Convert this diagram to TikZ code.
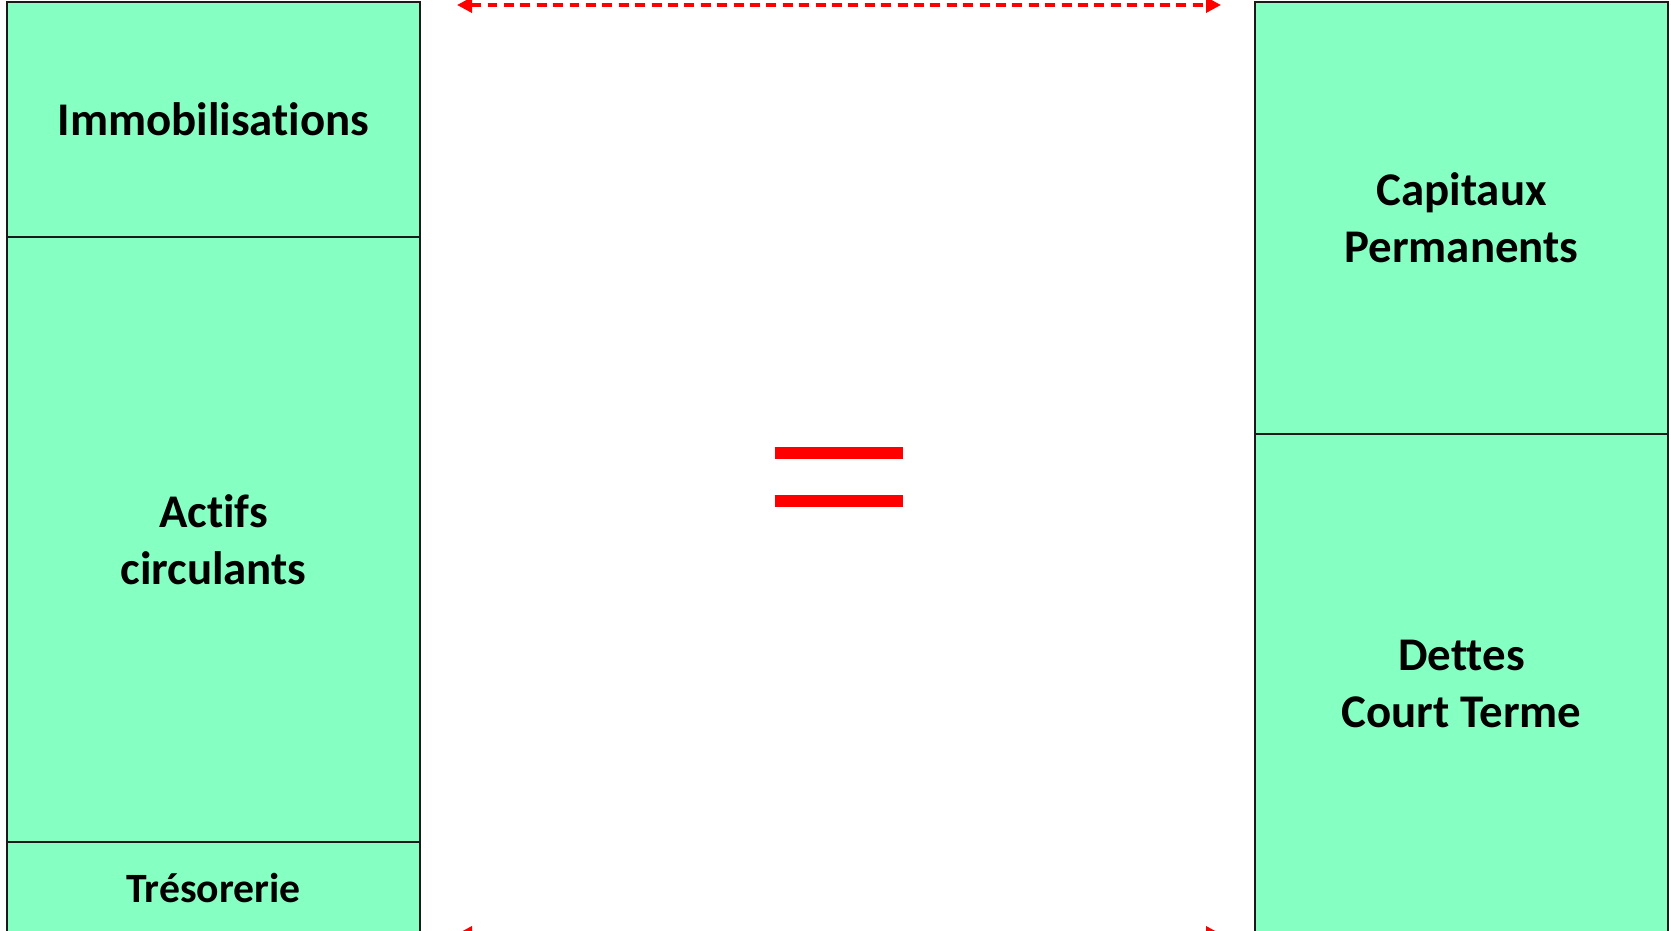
\documentclass[tikz,border=0pt]{standalone}
\usepackage{fontspec}
\setmainfont{Carlito}[Ligatures=NoCommon]
\usetikzlibrary{arrows.meta, positioning}
\definecolor{cmint}{HTML}{86FFC2}
\definecolor{cline}{HTML}{1A1A1A}
\definecolor{cred}{HTML}{FF0000}
\tikzset{
  every picture/.style={x=0.03cm, y=-0.03cm},
  bloc/.style={draw=cline, fill=cmint, line width=1.3pt, outer sep=0pt, inner sep=0pt,
    minimum width=12.39cm, align=center, font=\fontsize{40}{49}\selectfont\bfseries},
  span/.style={{Triangle[length=0.45cm, width=0.45cm]}-{Triangle[length=0.45cm, width=0.45cm]},
    draw=cred, line width=3pt, dash pattern=on 8.5pt off 5.5pt},
}
\begin{document}
\begin{tikzpicture}
  \useasboundingbox (0,0) rectangle (1671,931);
  % actif
  \node[bloc, minimum height=7.05cm, anchor=north west] (immo) at (7,2) {Immobilisations};
  \node[bloc, minimum height=18.15cm, below=0pt of immo] (actifs) {Actifs\\circulants};
  \node[bloc, minimum height=2.76cm, below=0pt of actifs, font=\fontsize{35.6}{43}\selectfont\bfseries] (treso) {Trésorerie};
  % passif
  \node[bloc, minimum height=12.96cm, anchor=north west] (capitaux) at (1255,2) {Capitaux\\Permanents};
  \node[bloc, minimum height=15cm, below=0pt of capitaux] (dettes) {Dettes\\Court Terme};
  % equality
  \fill[cred] (775,447) rectangle (903,459);
  \fill[cred] (775,495) rectangle (903,507);
  \coordinate (tl) at (457,5);
  \coordinate (tr) at (1221,5);
  \coordinate (bl) at (457,934);
  \coordinate (br) at (1221,934);
  \draw[span] (tl) -- (tr);
  \draw[span] (bl) -- (br);
\end{tikzpicture}
\end{document}
